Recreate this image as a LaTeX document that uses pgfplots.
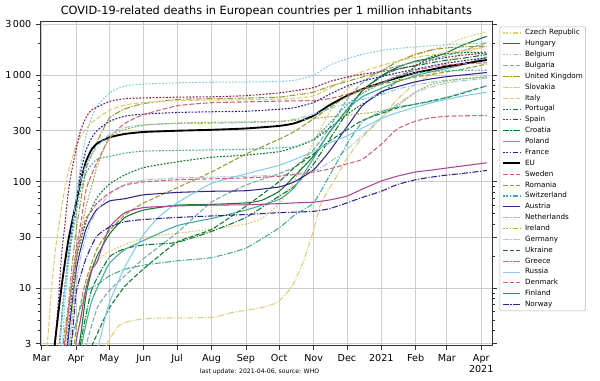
\documentclass[border=0pt]{standalone}
\usepackage{fontspec}
\setmainfont{DejaVu Sans}
\usepackage{pgfplots}
\pgfplotsset{compat=1.18}
\definecolor{tindigo}{HTML}{332288}
\definecolor{tcyan}{HTML}{88CCEE}
\definecolor{tteal}{HTML}{44AA99}
\definecolor{tgreen}{HTML}{117733}
\definecolor{tolive}{HTML}{999933}
\definecolor{tsand}{HTML}{DDCC77}
\definecolor{trose}{HTML}{CC6677}
\definecolor{twine}{HTML}{882255}
\definecolor{tpurple}{HTML}{AA4499}
\definecolor{tgrayteal}{HTML}{77AAAA}
\definecolor{tpale}{HTML}{AAC8D8}
\definecolor{tolivel}{HTML}{AAAA44}
\tikzset{
 dotl/.style={dash pattern=on 1.4pt off 1.1pt},
 dashl/.style={dash pattern=on 3.6pt off 1.5pt},
 dashdotl/.style={dash pattern=on 4.5pt off 1.2pt on 0.9pt off 1.2pt},
}
\begin{document}
\begin{tikzpicture}
\useasboundingbox (-30pt,-25.7pt) rectangle (420pt,259.3pt);
\begin{axis}[
 scale only axis, width=339.5pt, height=243pt,
 ymode=log, xmin=-1.5, xmax=406.3, ymin=2.87, ymax=3167,
 /pgf/number format/assume math mode=true,
 xtick={0,31,61,92,122,153,184,214,245,275,306,337,365,396},
 xticklabels={Mar,Apr,May,Jun,Jul,Aug,Sep,Oct,Nov,Dec,2021,Feb,Mar,{Apr\\2021}},
 xticklabel style={align=center, font=\fontsize{7.2}{8.6}\selectfont},
 ytick={3,10,30,100,300,1000,3000},
 yticklabels={3,10,30,100,300,{1\,000},{3\,000}},
 yticklabel style={font=\fontsize{7.2}{8.6}\selectfont},
 minor ytick={4,5,6,7,8,9,20,40,50,60,70,80,90,200,400,500,600,700,800,900,2000},
 grid=major, major grid style={gray!40, line width=0.6pt},
 tick align=outside, xtick pos=bottom, ytick pos=both, yticklabel pos=left,
 major tick length=3pt, minor tick length=1.8pt,
 tick style={black!80, line width=0.5pt},
 axis line style={black!80, line width=0.6pt},
 title={COVID-19-related deaths in European countries per 1 million inhabitants},
 title style={font=\fontsize{8.5}{10}\selectfont, yshift=-5.5pt},
 xlabel={last update: 2021-04-06, source: WHO},
 xlabel style={font=\fontsize{4.6}{5.5}\selectfont, at={(rel axis cs:0.485,0)}, anchor=center, yshift=-19.5pt},
 legend style={at={(1.0155,0.985)}, anchor=north west, font=\fontsize{5.4}{6.2}\selectfont,
   draw=gray!60, rounded corners=1pt, inner sep=1.5pt, row sep=1.95pt,
   nodes={inner sep=0.6pt, text height=3.9pt, text depth=1.1pt},
   /tikz/every odd column/.append style={column sep=2.5pt}},
 legend cell align=left,
 legend image code/.code={\draw[#1] plot coordinates {(0cm,0cm) (0.45cm,0cm)};},
 every axis plot/.append style={line width=0.8pt, no markers, smooth, tension=0.3},
]
% Czech Republic
\addplot[tsand, dotl] coordinates {(21,0.09)(24,0.84)(31,2.9)(38,8.2)(45,15.8)(61,22)(92,29.7)(122,32.6)(153,35.8)(184,39.8)(198,45)(214,62)(228,103)(245,234)(259,440)(275,738)(289,890)(306,1094)(320,1327)(337,1533)(351,1700)(365,1935)(379,2206)(401,2551)};
\addlegendentry{Czech Republic}
% Hungary
\addplot[tgreen] coordinates {(28,1.2)(31,2.1)(35,3.5)(40,8.7)(45,14.5)(50,20)(61,32)(75,46)(92,54)(122,60)(153,61)(184,63)(198,66.5)(214,81)(228,113)(245,174)(259,287)(275,471)(289,716)(306,983)(320,1177)(337,1351)(351,1443)(365,1627)(379,1904)(401,2313)};
\addlegendentry{Hungary}
% Belgium
\addplot[tcyan, dotl] coordinates {(14,0.5)(17,1.2)(19,3.2)(21,7.6)(24,15.5)(27,30.7)(31,72)(35,140)(40,270)(45,400)(50,510)(61,680)(75,790)(92,823)(122,845)(153,856)(184,860)(214,870)(228,894)(245,996)(259,1232)(275,1421)(289,1570)(306,1698)(320,1774)(337,1836)(351,1883)(365,1928)(379,1958)(401,2008)};
\addlegendentry{Belgium}
% Bulgaria
\addplot[tgrayteal, dashl] coordinates {(31,1.15)(40,2.9)(50,6.5)(61,9.5)(75,13)(92,19)(122,33)(153,64)(184,92.5)(214,119)(228,137)(245,200)(259,317)(275,590)(289,849)(306,1094)(320,1209)(337,1324)(351,1410)(365,1525)(379,1683)(401,2014)};
\addlegendentry{Bulgaria}
% United Kingdom
\addplot[tolive, dashdotl] coordinates {(14,0.5)(17,1.5)(20,3.4)(24,6.8)(27,15)(31,34.6)(35,63.5)(40,132)(45,178)(50,236)(61,394)(75,480)(92,540)(122,590)(153,600)(184,608)(214,620)(228,648)(245,690)(259,780)(275,870)(289,960)(306,1090)(320,1330)(337,1570)(351,1720)(365,1800)(379,1840)(401,1870)};
\addlegendentry{United Kingdom}
% Slovakia
\addplot[tsand, dashdotl] coordinates {(50,1.5)(59,3.0)(70,4.5)(82,4.95)(100,5.2)(154,5.3)(172,5.9)(197,6.5)(212,7.3)(221,9)(227,11)(236,18)(245,35)(251,60)(260,89)(269,128)(275,165)(289,260)(306,391)(320,586)(337,842)(351,1007)(365,1300)(379,1611)(401,1868)};
\addlegendentry{Slovakia}
% Italy
\addplot[tsand, dashl] coordinates {(0,0.56)(3,1.77)(6,3.86)(9,10.4)(12,21)(15,35.7)(19,66.8)(24,124)(31,218)(37,284)(45,358)(61,467)(75,523)(92,554)(122,576)(153,582)(184,587)(214,595)(228,602)(245,639)(259,749)(275,920)(289,1076)(306,1228)(320,1346)(337,1465)(351,1549)(365,1621)(379,1697)(401,1843)};
\addlegendentry{Italy}
% Portugal
\addplot[tgreen, dotl] coordinates {(19,0.58)(24,4.2)(31,18)(40,42)(50,71)(61,94.5)(75,115.5)(92,135.5)(122,153)(153,169)(184,177)(214,191)(228,209)(245,247)(259,316)(275,427)(289,534)(306,677)(320,864)(337,1214)(351,1495)(365,1583)(379,1621)(401,1641)};
\addlegendentry{Portugal}
% Spain
\addplot[twine, dotl] coordinates {(7,0.36)(10,1.0)(12,2.9)(15,7.3)(18,21)(21,40)(24,80)(27,125)(31,200)(35,300)(40,400)(45,470)(61,565)(75,600)(92,610)(122,620)(153,625)(184,640)(214,680)(228,712)(245,762)(259,866)(275,957)(289,1019)(306,1079)(320,1132)(337,1238)(351,1375)(365,1468)(379,1538)(401,1612)};
\addlegendentry{Spain}
% Croatia
\addplot[tgreen, dashdotl] coordinates {(31,1.5)(35,3)(45,9.6)(61,19.5)(75,23.4)(92,25.4)(122,26.8)(153,34)(184,46)(214,73)(228,91)(245,146)(259,246)(275,443)(289,714)(306,965)(320,1133)(337,1222)(351,1305)(365,1379)(379,1436)(401,1559)};
\addlegendentry{Croatia}
% Poland
\addplot[tteal] coordinates {(31,0.87)(35,2.5)(40,4.6)(45,7.5)(50,10)(61,17)(75,23)(92,28)(122,38.5)(153,45)(184,54)(214,68)(228,89)(245,166)(259,290)(275,474)(289,626)(306,750)(320,861)(337,989)(351,1071)(365,1153)(379,1247)(401,1474)};
\addlegendentry{Poland}
% France
\addplot[tindigo, dotl] coordinates {(9,0.5)(14,1.9)(17,3.9)(20,8.4)(24,19.9)(27,34.5)(31,60)(35,120)(40,197)(45,256)(50,302)(61,367)(75,411)(92,430)(122,445)(153,452)(184,457)(214,477)(228,494)(245,553)(259,657)(275,787)(289,879)(306,967)(320,1045)(337,1134)(351,1218)(365,1296)(379,1357)(401,1454)};
\addlegendentry{France}
% EU
\addplot[black, line width=1.4pt] coordinates {(9,1.6)(12,3.1)(15,5.8)(19,12.5)(24,28)(31,63)(35,100)(40,155)(45,200)(50,228)(61,260)(75,280)(92,292)(122,300)(153,306)(184,315)(214,333)(228,353)(245,416)(259,519)(275,638)(289,738)(306,846)(320,940)(337,1051)(351,1125)(365,1204)(379,1271)(401,1387)};
\addlegendentry{EU}
% Sweden
\addplot[trose, dashl] coordinates {(14,0.3)(19,1.5)(24,6)(31,23)(35,39)(40,84)(45,116)(50,153)(61,256)(75,352)(92,425)(122,515)(153,550)(184,560)(214,569)(228,572)(245,577)(259,599)(275,657)(289,744)(306,841)(320,976)(337,1111)(351,1188)(365,1246)(379,1275)(401,1304)};
\addlegendentry{Sweden}
% Romania
\addplot[tolive, dashl] coordinates {(24,0.6)(31,4.2)(40,11.9)(50,23.4)(61,34.6)(75,48.6)(92,63)(122,87.4)(153,123)(184,181)(214,250)(228,296)(245,389)(259,492)(275,627)(289,725)(306,819)(320,881)(337,959)(351,1010)(365,1073)(379,1135)(401,1269)};
\addlegendentry{Romania}
% Switzerland
\addplot[tteal, dotl] coordinates {(9,0.5)(14,1.6)(19,7)(24,17.8)(31,50)(35,83)(40,120)(45,144)(50,162)(61,172)(75,185)(92,193)(122,196)(153,198)(184,201)(214,207)(228,213)(245,249)(259,349)(275,523)(289,674)(306,835)(320,965)(337,1047)(351,1081)(365,1093)(379,1105)(401,1116)};
\addlegendentry{Switzerland}
% Austria
\addplot[tindigo] coordinates {(19,0.7)(24,3.4)(31,14.4)(35,23)(40,36)(45,46)(50,55)(61,65.6)(75,69)(92,75)(122,79)(153,81)(184,82)(214,89)(228,100)(245,129)(259,191)(275,326)(289,517)(306,697)(320,775)(337,865)(351,921)(365,966)(379,1000)(401,1056)};
\addlegendentry{Austria}
% Netherlands
\addplot[tcyan, dashdotl] coordinates {(11,0.3)(16,2.5)(19,6.1)(24,20.5)(31,67)(35,101)(40,144)(45,180)(50,212)(61,276)(75,320)(92,342)(122,351)(153,353)(184,358)(214,366)(228,385)(245,427)(259,483)(275,539)(289,592)(306,655)(320,736)(337,805)(351,856)(365,897)(379,925)(401,966)};
\addlegendentry{Netherlands}
% Ireland
\addplot[tolivel, dotl] coordinates {(21,0.8)(24,1.8)(31,17)(35,32)(40,58)(45,90)(50,140)(61,258)(75,307)(92,337)(122,354)(153,360)(184,363)(214,368)(228,376)(245,390)(259,406)(275,418)(289,435)(306,459)(320,510)(337,694)(351,816)(365,878)(379,918)(401,959)};
\addlegendentry{Ireland}
% Germany
\addplot[tpale, dashdotl] coordinates {(19,0.8)(24,2.4)(31,10.5)(35,19)(40,31)(45,43)(50,53)(61,76)(75,94)(92,103)(122,108)(153,110)(184,112)(214,114.5)(228,117)(245,125)(259,151)(275,200)(289,271)(306,398)(320,530)(337,687)(351,771)(365,843)(379,883)(401,933)};
\addlegendentry{Germany}
% Ukraine
\addplot[tgreen, dashl] coordinates {(40,1.6)(45,2.8)(50,3.7)(61,6.5)(75,10.4)(92,15.2)(122,27)(153,35.5)(184,58.6)(214,100)(228,136)(245,182)(259,239)(275,305)(289,375)(306,436)(320,489)(337,534)(351,573)(365,614)(379,673)(401,795)};
\addlegendentry{Ukraine}
% Greece
\addplot[tteal, dashdotl] coordinates {(19,0.56)(24,2.4)(31,4.7)(40,9.2)(50,10.7)(61,13)(75,15)(92,16.4)(122,18)(153,19.3)(184,23.7)(214,36.8)(228,48.6)(245,63)(259,112)(275,224)(289,364)(306,452)(320,500)(337,533)(351,565)(365,617)(379,682)(401,794)};
\addlegendentry{Greece}
% Russia
\addplot[tcyan] coordinates {(45,1.0)(50,2.5)(55,4.2)(61,7.3)(75,15.8)(92,32)(106,47)(122,63)(153,96)(184,118)(214,142)(228,161)(245,192)(259,229)(275,268)(289,318)(306,391)(320,442)(337,501)(351,548)(365,592)(379,634)(401,691)};
\addlegendentry{Russia}
% Denmark
\addplot[trose, dashl] coordinates {(15,0.5)(19,2.2)(24,5.9)(31,21)(35,31)(40,45)(45,53)(50,63)(61,78)(75,92.5)(92,99)(122,104)(153,106)(184,108)(214,112)(228,116.5)(245,123)(259,131)(275,146.5)(289,162)(306,224)(320,310)(337,370)(351,397)(365,410)(379,414)(401,417)};
\addlegendentry{Denmark}
% Finland
\addplot[tpurple] coordinates {(24,0.5)(31,3.1)(35,5)(40,10)(45,14.8)(50,17.7)(61,37)(75,51)(92,57)(122,59)(153,60)(184,60.5)(214,62)(228,63)(245,64)(259,67)(275,73)(289,85)(306,101)(320,112)(337,123)(351,128)(365,134)(379,140)(401,150)};
\addlegendentry{Finland}
% Norway
\addplot[tindigo, dashdotl] coordinates {(20,0.6)(24,1.5)(28,4)(31,9)(35,13)(40,19)(45,25)(50,31)(61,37.5)(75,42)(92,44)(122,46)(153,47.5)(184,49)(214,51)(228,51.6)(245,52.5)(259,55.5)(275,63)(289,71)(306,81)(320,93.5)(337,104)(351,110)(365,115)(379,119)(401,127)};
\addlegendentry{Norway}
\end{axis}
\end{tikzpicture}
\end{document}
